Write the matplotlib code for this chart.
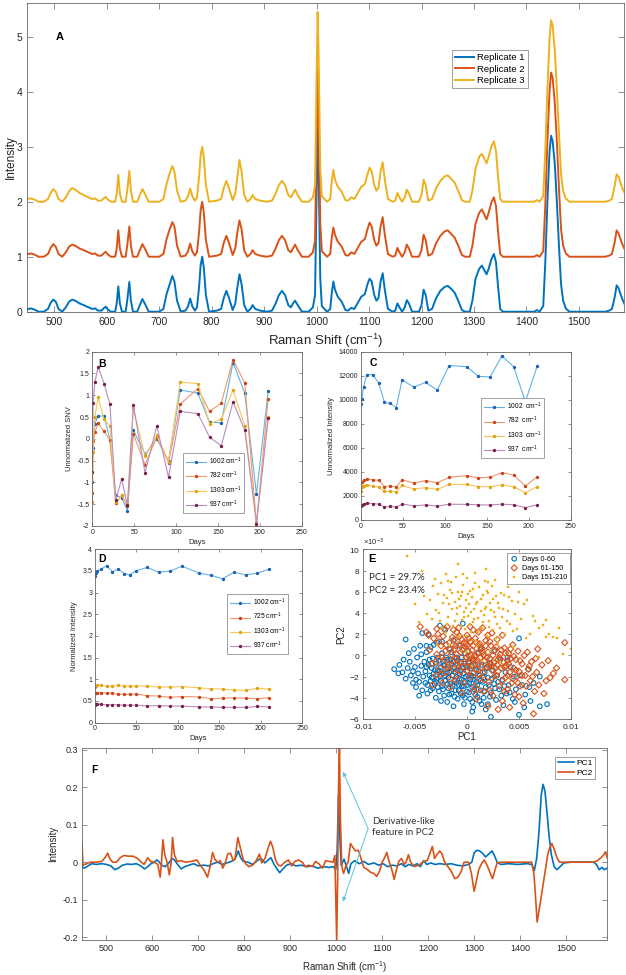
import matplotlib
matplotlib.use("Agg")
import matplotlib.pyplot as plt
from matplotlib.ticker import FuncFormatter, ScalarFormatter
import numpy as np

# ---------------- data ----------------
# panel A: mean spectra of three replicates (intensity, before stacking)
shift_a = [
    447, 455, 462, 470, 480, 488, 493, 498, 503, 508,
    515, 522, 528, 534, 540, 548, 556, 565, 572, 578,
    583, 590, 594, 598, 602, 608, 616, 619, 622, 625,
    629, 636, 639, 643, 646, 650, 658, 663, 668, 673,
    680, 700, 708, 714, 720, 725, 729, 734, 741, 750,
    755, 759, 763, 768, 772, 776, 779, 782, 785, 789,
    795, 810, 818, 823, 828, 833, 840, 845, 849, 853,
    857, 862, 868, 874, 878, 883, 892, 905, 915, 922,
    928, 934, 940, 946, 951, 955, 959, 964, 972, 985,
    993, 997, 1000, 1002, 1004, 1007, 1010, 1020, 1026, 1029,
    1032, 1035, 1040, 1048, 1055, 1060, 1066, 1072, 1078, 1085,
    1092, 1097, 1101, 1105, 1110, 1114, 1118, 1122, 1126, 1130,
    1136, 1145, 1150, 1154, 1158, 1163, 1168, 1172, 1176, 1182,
    1195, 1200, 1204, 1208, 1213, 1220, 1228, 1236, 1244, 1250,
    1256, 1263, 1270, 1277, 1283, 1292, 1297, 1303, 1310, 1315,
    1320, 1324, 1328, 1333, 1338, 1342, 1346, 1350, 1355, 1370,
    1415, 1420, 1425, 1432, 1436, 1440, 1444, 1447, 1450, 1454,
    1458, 1462, 1466, 1470, 1475, 1482, 1550, 1558, 1563, 1568,
    1572, 1576, 1580, 1584, 1588]
rep1 = [
    0.04, 0.06, 0.04, 0.00, 0.00, 0.05, 0.16, 0.22, 0.18, 0.05,
    0.00, 0.08, 0.18, 0.22, 0.20, 0.15, 0.12, 0.08, 0.05, 0.06,
    0.02, 0.02, 0.06, 0.09, 0.04, 0.00, 0.00, 0.15, 0.46, 0.15,
    0.00, 0.00, 0.20, 0.54, 0.20, 0.00, 0.00, 0.12, 0.23, 0.14,
    0.00, 0.00, 0.05, 0.32, 0.50, 0.65, 0.55, 0.20, 0.00, 0.02,
    0.10, 0.24, 0.10, 0.02, 0.08, 0.45, 0.85, 1.00, 0.80, 0.30,
    0.00, 0.02, 0.05, 0.25, 0.38, 0.25, 0.03, 0.15, 0.45, 0.68,
    0.50, 0.12, 0.00, 0.05, 0.12, 0.05, 0.02, 0.00, 0.02, 0.15,
    0.30, 0.38, 0.30, 0.12, 0.08, 0.15, 0.20, 0.12, 0.00, 0.00,
    0.08, 0.30, 2.20, 3.35, 2.50, 0.60, 0.10, 0.00, 0.05, 0.35,
    0.55, 0.40, 0.28, 0.18, 0.03, 0.02, 0.07, 0.05, 0.15, 0.27,
    0.32, 0.50, 0.60, 0.55, 0.30, 0.20, 0.25, 0.55, 0.70, 0.40,
    0.05, 0.00, 0.02, 0.15, 0.08, 0.00, 0.08, 0.21, 0.15, 0.00,
    0.00, 0.12, 0.40, 0.30, 0.02, 0.05, 0.25, 0.38, 0.45, 0.47,
    0.42, 0.35, 0.20, 0.03, 0.00, 0.00, 0.20, 0.60, 0.78, 0.84,
    0.75, 0.68, 0.78, 0.95, 1.05, 0.90, 0.45, 0.05, 0.00, 0.00,
    0.00, 0.03, 0.00, 0.10, 0.90, 2.00, 2.90, 3.20, 3.10, 2.70,
    2.00, 1.20, 0.50, 0.20, 0.06, 0.00, 0.00, 0.02, 0.05, 0.25,
    0.48, 0.42, 0.30, 0.20, 0.12]
rep2 = [
    0.04, 0.06, 0.04, 0.00, 0.00, 0.05, 0.16, 0.23, 0.18, 0.05,
    0.00, 0.08, 0.18, 0.22, 0.20, 0.15, 0.12, 0.08, 0.05, 0.06,
    0.02, 0.02, 0.06, 0.09, 0.04, 0.00, 0.00, 0.15, 0.48, 0.15,
    0.00, 0.00, 0.20, 0.55, 0.20, 0.00, 0.00, 0.12, 0.23, 0.14,
    0.00, 0.00, 0.05, 0.32, 0.50, 0.63, 0.55, 0.20, 0.00, 0.02,
    0.10, 0.24, 0.10, 0.02, 0.08, 0.45, 0.85, 1.00, 0.80, 0.30,
    0.00, 0.02, 0.05, 0.25, 0.38, 0.25, 0.03, 0.15, 0.45, 0.66,
    0.50, 0.12, 0.00, 0.05, 0.12, 0.05, 0.02, 0.00, 0.02, 0.15,
    0.30, 0.38, 0.30, 0.12, 0.08, 0.15, 0.22, 0.12, 0.00, 0.00,
    0.08, 0.30, 2.25, 3.42, 2.55, 0.60, 0.10, 0.00, 0.05, 0.35,
    0.53, 0.40, 0.28, 0.18, 0.03, 0.02, 0.08, 0.05, 0.15, 0.27,
    0.32, 0.50, 0.62, 0.55, 0.30, 0.20, 0.25, 0.55, 0.72, 0.40,
    0.05, 0.00, 0.02, 0.16, 0.08, 0.00, 0.08, 0.22, 0.15, 0.00,
    0.00, 0.12, 0.40, 0.30, 0.02, 0.05, 0.25, 0.38, 0.46, 0.48,
    0.42, 0.35, 0.20, 0.03, 0.00, 0.00, 0.20, 0.60, 0.80, 0.86,
    0.76, 0.68, 0.80, 0.98, 1.08, 0.92, 0.45, 0.05, 0.00, 0.00,
    0.00, 0.03, 0.00, 0.10, 0.95, 2.10, 3.00, 3.35, 3.25, 2.80,
    2.10, 1.25, 0.50, 0.20, 0.06, 0.00, 0.00, 0.02, 0.05, 0.25,
    0.48, 0.42, 0.30, 0.20, 0.12]
rep3 = [
    0.05, 0.06, 0.04, 0.00, 0.00, 0.05, 0.16, 0.23, 0.18, 0.05,
    0.00, 0.08, 0.19, 0.25, 0.22, 0.16, 0.12, 0.08, 0.05, 0.06,
    0.02, 0.02, 0.06, 0.09, 0.04, 0.00, 0.00, 0.15, 0.49, 0.15,
    0.00, 0.00, 0.20, 0.56, 0.20, 0.00, 0.00, 0.12, 0.23, 0.14,
    0.00, 0.00, 0.05, 0.32, 0.52, 0.65, 0.55, 0.20, 0.00, 0.02,
    0.10, 0.24, 0.10, 0.02, 0.08, 0.45, 0.85, 1.00, 0.80, 0.30,
    0.00, 0.02, 0.05, 0.25, 0.38, 0.25, 0.03, 0.15, 0.45, 0.76,
    0.55, 0.12, 0.00, 0.05, 0.12, 0.05, 0.02, 0.00, 0.02, 0.15,
    0.30, 0.38, 0.30, 0.12, 0.08, 0.15, 0.22, 0.12, 0.00, 0.00,
    0.08, 0.30, 2.30, 3.45, 2.60, 0.60, 0.10, 0.00, 0.05, 0.38,
    0.58, 0.40, 0.28, 0.18, 0.03, 0.02, 0.08, 0.05, 0.15, 0.27,
    0.32, 0.50, 0.62, 0.55, 0.30, 0.20, 0.25, 0.55, 0.72, 0.40,
    0.05, 0.00, 0.02, 0.16, 0.08, 0.00, 0.08, 0.22, 0.15, 0.00,
    0.00, 0.12, 0.40, 0.30, 0.02, 0.05, 0.25, 0.38, 0.46, 0.48,
    0.42, 0.35, 0.20, 0.03, 0.00, 0.00, 0.20, 0.60, 0.82, 0.87,
    0.78, 0.70, 0.82, 1.00, 1.10, 0.92, 0.45, 0.05, 0.00, 0.00,
    0.00, 0.03, 0.00, 0.10, 0.92, 2.05, 2.95, 3.30, 3.20, 2.75,
    2.05, 1.25, 0.50, 0.20, 0.06, 0.00, 0.00, 0.02, 0.05, 0.28,
    0.50, 0.45, 0.32, 0.22, 0.15]
rep_names = ['Replicate 1', 'Replicate 2', 'Replicate 3']

# panels B-D: band intensities vs storage day
days = [0, 1, 3, 7, 14, 21, 28, 35, 42, 49, 63, 77, 91, 105, 126, 140, 154, 168, 182, 196, 210]
snv_1002 = [-1.0, -0.2, 0.35, 0.52, 0.53, -0.02, -1.3, -1.35, -1.65, 0.2, -0.35, 0.0, -0.5, 1.12, 1.05, 0.38, 0.37, 1.75, 1.05, -1.27, 1.1]
snv_782 = [-1.25, -0.05, 0.15, 0.36, 0.17, -0.02, -1.48, -1.3, -1.55, 0.12, -0.6, 0.05, -0.55, 0.8, 1.15, 0.63, 0.82, 1.82, 1.28, -1.95, 0.92]
snv_1303 = [-1.45, -0.3, 0.5, 0.95, 0.45, 0.3, -1.45, -1.3, -1.5, 0.7, -0.4, 0.08, -0.52, 1.3, 1.27, 0.35, 0.45, 1.12, 0.3, -1.9, 0.5]
snv_937 = [-0.75, 0.82, 1.3, 1.65, 1.27, 0.8, -1.4, -0.92, -1.52, 0.77, -0.78, 0.3, -0.88, 0.63, 0.58, 0.04, -0.16, 0.85, 0.2, -1.95, 0.48]

raw_1002 = [9650, 10050, 11100, 12100, 12100, 11400, 9800, 9700, 9350, 11650, 11050, 11450, 10800, 12850, 12750, 11950, 11900, 13650, 12750, 9850, 12800]
raw_782 = [2850, 3150, 3300, 3400, 3350, 3300, 2780, 2830, 2750, 3330, 3080, 3270, 3100, 3550, 3690, 3500, 3560, 3940, 3740, 2830, 3600]
raw_1303 = [2400, 2780, 2850, 2910, 2800, 2760, 2380, 2400, 2330, 2880, 2580, 2690, 2550, 2970, 2960, 2770, 2780, 2910, 2760, 2280, 2770]
raw_937 = [1150, 1250, 1350, 1410, 1370, 1320, 1080, 1130, 1060, 1330, 1170, 1260, 1150, 1310, 1300, 1260, 1250, 1320, 1260, 1030, 1270]

norm_1002 = [3.38, 3.45, 3.50, 3.54, 3.62, 3.48, 3.55, 3.44, 3.41, 3.50, 3.58, 3.47, 3.50, 3.61, 3.45, 3.40, 3.32, 3.47, 3.41, 3.45, 3.54]
norm_725 = [0.67, 0.68, 0.69, 0.69, 0.68, 0.68, 0.65, 0.65, 0.65, 0.66, 0.62, 0.61, 0.58, 0.60, 0.59, 0.55, 0.56, 0.57, 0.56, 0.55, 0.57]
norm_1303 = [0.82, 0.85, 0.87, 0.86, 0.84, 0.84, 0.86, 0.84, 0.84, 0.85, 0.84, 0.82, 0.82, 0.83, 0.80, 0.78, 0.77, 0.75, 0.74, 0.79, 0.77]
norm_937 = [0.41, 0.42, 0.42, 0.42, 0.41, 0.41, 0.41, 0.40, 0.40, 0.40, 0.38, 0.39, 0.38, 0.38, 0.36, 0.36, 0.35, 0.35, 0.35, 0.37, 0.36]

# panel E: PCA scores, (PC1, PC2) in units of 1e-3
scores_0_60 = [
    (-7.0, -1.3), (-6.6, -1.7), (-6.5, -0.9), (-6.2, -1.6), (-5.9, 1.5), (-5.9, -2.2), (-5.7, -1.2),
    (-5.5, -0.6), (-5.4, -1.9), (-5.2, -2.6), (-5.1, 0.6), (-5.0, -1.1), (-4.9, -3.0), (-4.8, -0.2),
    (-4.7, -1.7), (-4.6, -2.5), (-4.5, 0.9), (-4.4, -1.0), (-4.3, 2.1), (-4.3, -3.3), (-4.2, -2.0),
    (-4.1, -0.6), (-4.0, -1.5), (-3.9, 0.3), (-3.8, -2.8), (-3.8, -3.6), (-3.7, 2.0), (-3.7, -0.9),
    (-3.6, -1.9), (-3.5, -2.4), (-3.5, 0.8), (-3.4, -1.2), (-3.3, -3.1), (-3.3, -0.3), (-3.2, -1.7),
    (-3.1, -2.7), (-3.0, -4.0), (-3.0, -0.8), (-2.9, -2.2), (-2.9, 1.2), (-2.8, -1.4), (-2.7, -3.4),
    (-2.7, -0.5), (-2.6, 2.8), (-2.6, -2.0), (-2.5, -1.1), (-2.4, -2.9), (-2.4, 0.2), (-2.3, -1.7),
    (-2.2, -3.8), (-2.2, -0.9), (-2.1, 2.4), (-2.1, -2.4), (-2.0, -1.3), (-1.9, -4.4), (-1.9, -0.4),
    (-1.8, -2.1), (-1.8, -3.1), (-1.7, 0.6), (-1.7, -1.6), (-1.6, -2.7), (-1.5, -0.8), (-1.5, -3.6),
    (-1.4, -1.9), (-1.3, -4.8), (-1.3, 1.4), (-1.2, -2.4), (-1.2, -1.1), (-1.1, -3.3), (-1.0, -0.2),
    (-1.0, -2.0), (-0.9, -4.1), (-0.9, -1.4), (-0.8, -2.8), (-0.7, 0.9), (-0.7, -1.8), (-0.6, -3.6),
    (-0.6, -0.6), (-0.5, -2.3), (-0.4, 3.0), (-0.4, -1.2), (-0.3, -4.6), (-0.3, -2.9), (-0.2, -0.8),
    (-0.1, -2.0), (0.0, -3.4), (0.0, -1.5), (0.1, 0.4), (0.2, -2.6), (0.3, -4.1), (0.3, -1.0),
    (0.4, -1.9), (0.5, -3.0), (0.6, -4.9), (0.6, -0.5), (0.7, -2.3), (0.8, -3.7), (0.9, -1.4),
    (1.0, -2.8), (1.1, 0.2), (1.2, -4.3), (1.2, -1.9), (1.3, -3.3), (1.4, -0.9), (1.5, -2.5),
    (1.6, -4.0), (1.7, -1.6), (1.8, -3.0), (2.0, -2.1), (2.0, -4.6), (2.2, -0.7), (2.3, -5.8),
    (2.3, -3.5), (2.5, -1.4), (2.6, -2.7), (2.8, -4.2), (2.9, -1.9), (3.1, -3.2), (3.2, -0.4),
    (3.4, -2.3), (3.5, -4.7), (3.7, -1.6), (3.8, -3.6), (4.0, -2.8), (4.2, -1.1), (4.4, -4.1),
    (4.5, -2.0), (4.7, -3.2), (5.0, 1.6), (5.0, -5.6), (5.1, -1.9), (5.3, -2.8), (5.6, -3.7),
    (5.9, -1.3), (6.1, -4.3), (6.4, -2.6), (7.0, -2.0), (7.0, -4.8), (7.7, -4.6), (0.5, -5.3),
    (-2.5, -4.3), (1.8, -5.1),
    (-3.9, -1.1), (-3.6, -0.4), (-3.4, -2.1), (-3.1, -1.4), (-3.0, -2.5), (-2.8, -0.2), (-2.8, -3.0),
    (-2.6, -1.5), (-2.5, -2.4), (-2.3, -0.6), (-2.3, -3.2), (-2.1, -1.9), (-2.0, -0.2), (-1.9, -2.7),
    (-1.8, -1.2), (-1.7, -3.7), (-1.6, -0.4), (-1.5, -1.5), (-1.4, -2.9), (-1.3, -0.6), (-1.2, -3.9),
    (-1.1, -1.6), (-1.0, -2.6), (-0.9, -0.5), (-0.8, -1.1), (-0.8, -3.3), (-0.7, -2.2), (-0.6, -1.4),
    (-0.5, -2.9), (-0.5, -0.2), (-0.4, -3.8), (-0.3, -1.7), (-0.2, -2.5), (-0.2, -4.0), (-0.1, -1.0),
    (0.0, -2.8), (0.1, -1.9), (0.2, -3.5), (0.2, -0.6), (0.3, -2.3), (0.4, -1.2), (0.5, -4.4),
    (0.6, -2.0), (0.7, -3.2), (0.8, -0.9), (0.9, -2.5), (1.0, -3.9), (1.1, -1.5), (1.3, -2.4),
    (1.4, -4.6), (1.6, -2.1), (1.7, -3.4), (1.9, -1.2), (2.1, -2.8), (2.2, -3.9), (2.4, -2.2),
    (2.7, -3.1), (3.0, -2.5), (3.3, -3.8), (3.6, -2.9), (4.1, -3.5), (4.6, -4.4), (5.5, -4.9),
    (6.0, -3.0), (-4.6, -3.8), (-5.2, -1.5), (-4.9, -2.3), (-4.0, -2.6), (-3.5, -3.3), (-3.9, 0.9),
    (-3.2, 1.0), (-2.4, 1.3), (-1.5, 0.3), (-0.2, 0.2), (1.3, 0.6), (2.6, 0.4), (3.9, -0.2),
    (-6.1, -0.4), (-5.6, 0.2), (-4.4, 0.1)]
scores_61_150 = [
    (-4.5, 2.7), (-3.9, 2.2), (-3.6, 0.5), (-3.4, -0.8), (-3.2, 1.6), (-3.0, -1.9), (-2.9, 0.1),
    (-2.8, 2.0), (-2.6, -1.2), (-2.5, 0.9), (-2.4, -2.6), (-2.3, 1.8), (-2.2, -0.4), (-2.1, 0.4),
    (-2.0, -1.6), (-1.9, 2.7), (-1.8, -0.9), (-1.7, 1.2), (-1.6, -2.2), (-1.5, 0.1), (-1.4, 1.7),
    (-1.3, -1.3), (-1.2, 0.6), (-1.1, -0.3), (-1.0, 2.2), (-0.9, -1.8), (-0.8, 1.0), (-0.7, -0.7),
    (-0.6, 0.3), (-0.5, 1.5), (-0.4, -1.1), (-0.3, -2.6), (-0.2, 0.8), (-0.1, -0.2), (0.0, 1.9),
    (0.0, -1.5), (0.1, 0.4), (0.2, -0.7), (0.3, 1.3), (0.3, -2.0), (0.4, 0.0), (0.5, -1.0),
    (0.6, 0.9), (0.7, -0.4), (0.7, -2.9), (0.8, 1.6), (0.9, -1.3), (1.0, 0.2), (1.1, -0.8),
    (1.2, 1.1), (1.2, -2.2), (1.3, -0.2), (1.4, 0.6), (1.5, -1.6), (1.6, -3.4), (1.7, -0.5),
    (1.8, 1.4), (1.9, -1.1), (2.0, 0.3), (2.1, -2.5), (2.2, -0.3), (2.3, 0.9), (2.4, -1.4),
    (2.5, -3.8), (2.6, -0.7), (2.7, 0.5), (2.8, -1.9), (2.9, 1.5), (3.0, -0.4), (3.1, -2.9),
    (3.2, 0.1), (3.3, -1.2), (3.4, -4.3), (3.5, -0.6), (3.6, 0.7), (3.7, -2.1), (3.8, -1.0),
    (3.9, -3.2), (4.0, 0.2), (4.1, -1.6), (4.2, -0.3), (4.3, -2.6), (4.4, 1.0), (4.5, -1.2),
    (4.6, -3.7), (4.7, -0.4), (4.8, -2.0), (4.9, 0.4), (5.0, -1.5), (5.1, -2.9), (5.3, -0.8),
    (5.4, -4.5), (5.6, -1.9), (5.8, 0.3), (5.9, -1.3), (6.1, -2.4), (6.2, -0.6), (6.4, -5.5),
    (6.5, -3.4), (6.7, -1.6), (6.9, -2.8), (7.2, -0.9), (7.6, -2.4), (8.0, -2.1), (8.3, -1.7),
    (9.4, 1.2), (9.4, -2.3), (-1.6, -3.0), (-0.5, -3.5), (0.9, -4.1), (2.0, -4.8), (3.0, -5.1),
    (1.5, 2.6), (-0.8, 2.6), (0.6, 2.4), (2.4, 2.1), (3.4, 1.9), (-2.2, 2.5), (-3.3, -2.8),
    (4.1, -4.9), (1.0, -3.2), (-1.1, 0.9), (0.2, -0.1), (1.6, 0.0), (2.9, -0.9), (-0.1, 1.1),
    (3.9, -0.5),
    (-2.7, 1.3), (-2.4, -0.2), (-2.0, 1.0), (-1.9, -1.1), (-1.6, 0.6), (-1.4, -0.5), (-1.2, 1.5),
    (-1.0, 0.1), (-0.9, -0.9), (-0.7, 1.8), (-0.6, -1.5), (-0.4, 0.5), (-0.3, 1.2), (-0.2, -0.6),
    (0.0, 0.9), (0.1, -1.1), (0.2, 1.6), (0.4, -0.4), (0.5, 0.5), (0.6, -1.7), (0.8, 0.0),
    (0.9, 1.2), (1.0, -0.5), (1.1, -1.8), (1.3, 0.8), (1.4, -1.1), (1.5, 0.3), (1.7, -2.3),
    (1.8, 0.9), (1.9, -0.2), (2.1, -1.0), (2.2, 1.3), (2.3, -0.8), (2.5, 0.0), (2.6, -2.0),
    (2.7, -1.2), (2.8, 0.8), (3.0, -1.5), (3.1, -0.2), (3.3, 0.5), (3.4, -2.4), (3.6, -1.1),
    (3.7, 0.2), (3.9, -1.9), (4.0, -0.8), (4.2, 0.6), (4.4, -2.2), (4.5, -0.1), (4.7, -1.4),
    (4.9, -2.6), (5.1, -0.5), (5.3, -1.9), (5.5, 0.0), (5.7, -2.9), (6.0, -1.0), (6.3, -2.0),
    (6.6, -0.3), (-3.7, 1.9), (-2.9, 2.5), (-1.3, 2.4), (0.3, 2.7), (1.1, 2.2), (2.0, 1.9),
    (-3.0, -0.6), (-2.5, -1.8), (-1.1, -2.4), (0.6, -3.4), (2.2, -3.3), (3.6, -3.4), (5.0, -3.9),
    (7.4, -3.6), (8.6, -1.2), (7.8, -0.5), (6.8, 0.6)]
scores_151_210 = [
    (-5.8, 9.4), (-5.0, 4.8), (-4.3, 8.0), (-4.1, 5.6), (-3.8, 3.9), (-3.6, 5.2), (-3.3, 6.5),
    (-3.1, 7.2), (-3.0, 4.3), (-2.8, 5.8), (-2.6, 3.2), (-2.5, 6.8), (-2.3, 4.9), (-2.1, 2.1),
    (-2.0, 7.7), (-1.9, 5.4), (-1.8, 3.6), (-1.6, 6.2), (-1.5, 6.9), (-1.4, 4.4), (-1.3, 2.8),
    (-1.2, 5.0), (-1.1, 7.4), (-1.0, 3.9), (-0.9, 6.0), (-0.8, 1.8), (-0.7, 4.7), (-0.6, 5.6),
    (-0.5, 3.3), (-0.4, 6.6), (-0.3, 4.1), (-0.2, 2.5), (-0.1, 5.2), (0.0, 7.3), (0.1, 3.7),
    (0.2, 4.8), (0.3, 6.1), (0.4, 2.2), (0.5, 5.5), (0.6, 3.1), (0.7, 4.4), (0.8, 7.8),
    (0.8, 6.8), (0.9, 1.4), (1.0, 5.0), (1.1, 3.5), (1.2, 6.4), (1.3, 4.2), (1.4, 2.6),
    (1.5, 5.7), (1.6, 3.8), (1.7, 7.0), (1.8, 4.6), (1.9, 1.8), (2.0, 5.9), (2.1, 3.2),
    (2.2, 4.9), (2.4, 6.5), (2.5, 2.4), (2.6, 4.1), (2.8, 5.6), (2.9, 3.0), (3.0, 1.2),
    (3.1, 4.5), (3.3, 5.9), (3.4, 3.6), (3.6, 5.7), (3.7, 2.0), (3.9, 4.2), (4.1, 3.0),
    (4.3, 5.1), (4.6, 3.9), (4.8, 2.5), (4.9, 5.0), (5.2, 3.4), (5.5, 4.8), (5.7, 1.6),
    (5.8, 5.2), (6.1, 2.0), (6.3, 3.7), (6.5, 3.2), (6.9, 2.6), (7.3, 2.9), (7.6, 1.7),
    (7.6, 3.3), (7.9, 2.0), (8.3, 1.7), (8.7, 1.6), (8.8, 2.6), (9.2, 0.1), (10.0, 0.6),
    (-4.6, 3.1), (-0.1, 0.3), (1.4, -0.5), (2.2, 0.4), (-1.7, 1.0), (4.4, 0.8), (3.2, -0.6),
    (0.5, -1.0), (6.9, -0.2), (-0.9, 8.6), (1.8, 8.1), (-2.9, 1.0), (5.0, 6.0), (2.7, 7.1),
    (-2.7, 4.0), (-2.2, 5.7), (-1.9, 3.0), (-1.7, 4.8), (-1.4, 5.9), (-1.2, 3.2), (-1.0, 4.5),
    (-0.8, 5.3), (-0.6, 2.8), (-0.5, 6.0), (-0.3, 3.6), (-0.1, 4.5), (0.1, 5.8), (0.2, 2.9),
    (0.4, 4.1), (0.6, 6.3), (0.7, 3.4), (0.9, 4.8), (1.1, 2.2), (1.3, 5.3), (1.5, 3.1),
    (1.7, 4.4), (1.9, 6.1), (2.1, 2.7), (2.3, 4.3), (2.5, 5.3), (2.7, 3.6), (3.0, 4.9),
    (3.2, 2.6), (3.5, 4.4), (3.8, 3.2), (4.0, 5.5), (4.4, 2.3), (-2.4, 2.6), (-3.4, 3.4),
    (0.0, 1.8), (1.0, 0.9), (2.8, 1.6), (-0.4, 7.7), (2.0, 6.9), (-1.8, 7.0), (3.9, 6.4)]
group_names = ['Days 0-60', 'Days 61-150', 'Days 151-210']

# panel F: PCA loadings (Raman shift, loading)
pc1_loading = [
    (447, -0.012), (452, -0.016), (460, -0.01), (468, -0.004), (478, -0.006), (490, -0.004),
    (500, -0.006), (510, -0.01), (518, -0.02), (526, -0.016), (535, -0.008), (545, -0.005),
    (555, -0.006), (565, -0.004), (575, -0.01), (583, -0.018), (590, -0.012), (597, -0.004),
    (604, 0.0), (610, 0.006), (614, 0.002), (620, -0.008), (628, -0.012), (636, -0.002),
    (643, 0.01), (648, 0.006), (655, -0.006), (663, -0.018), (670, -0.012), (680, -0.008),
    (690, -0.004), (700, -0.01), (712, -0.008), (722, -0.01), (732, -0.004), (742, 0.0),
    (752, -0.006), (762, -0.002), (772, 0.002), (780, 0.008), (787, 0.03), (792, 0.012),
    (798, 0.002), (808, 0.0), (818, -0.006), (828, 0.004), (836, 0.01), (845, -0.002),
    (852, 0.006), (858, 0.012), (864, -0.004), (870, -0.016), (877, -0.028), (884, -0.018),
    (892, -0.008), (902, -0.004), (912, -0.01), (924, -0.008), (935, -0.012), (948, -0.01),
    (960, -0.016), (972, -0.012), (985, -0.014), (994, -0.012), (999, -0.02), (1002, 0.03),
    (1005, 0.18), (1008, 0.06), (1011, -0.008), (1017, 0.008), (1022, -0.01), (1027, -0.03),
    (1032, -0.004), (1040, 0.004), (1050, -0.004), (1060, 0.002), (1070, -0.006), (1082, -0.002),
    (1092, -0.008), (1102, -0.004), (1112, -0.012), (1122, -0.008), (1132, -0.01), (1142, -0.004),
    (1150, -0.012), (1158, -0.006), (1167, -0.01), (1176, -0.004), (1183, -0.012), (1190, 0.004),
    (1197, -0.006), (1206, -0.002), (1215, -0.006), (1225, -0.004), (1238, -0.006), (1250, -0.004),
    (1262, -0.008), (1275, -0.01), (1288, -0.006), (1295, 0.0), (1300, 0.025), (1306, 0.032),
    (1312, 0.03), (1318, 0.024), (1325, 0.014), (1332, 0.022), (1339, 0.03), (1344, 0.018),
    (1350, 0.0), (1358, -0.006), (1375, -0.004), (1395, -0.006), (1415, -0.004), (1425, -0.006),
    (1431, -0.022), (1436, 0.01), (1441, 0.08), (1446, 0.18), (1450, 0.208), (1454, 0.19),
    (1458, 0.14), (1463, 0.07), (1468, 0.02), (1474, -0.012), (1480, -0.02), (1487, -0.012),
    (1495, -0.002), (1510, 0.0), (1540, 0.0), (1560, 0.0), (1566, -0.006), (1572, -0.02),
    (1578, -0.014), (1583, -0.02), (1589, -0.016)]
pc2_loading = [
    (447, 0.05), (449, -0.008), (455, -0.005), (465, 0.0), (478, 0.0), (490, 0.002),
    (497, 0.012), (503, 0.024), (508, 0.008), (514, 0.0), (522, 0.0), (530, 0.012),
    (538, 0.018), (548, 0.016), (558, 0.016), (568, 0.01), (576, 0.0), (582, -0.006),
    (590, 0.012), (596, 0.002), (604, 0.0), (612, -0.006), (617, -0.04), (620, 0.0),
    (623, 0.06), (627, 0.02), (632, 0.0), (637, -0.034), (641, 0.0), (644, 0.066),
    (648, 0.02), (654, 0.002), (662, 0.004), (672, 0.0), (685, 0.002), (697, 0.006),
    (704, -0.008), (712, -0.02), (720, -0.04), (726, -0.01), (731, 0.026), (736, 0.008),
    (742, 0.0), (748, 0.004), (753, -0.016), (758, -0.004), (764, 0.022), (770, 0.024),
    (776, 0.004), (780, 0.01), (786, 0.066), (791, 0.04), (797, 0.01), (803, -0.004),
    (810, -0.012), (818, -0.008), (825, 0.002), (833, 0.022), (838, -0.002), (845, 0.01),
    (851, 0.035), (857, 0.056), (862, 0.04), (868, 0.006), (874, -0.008), (880, -0.01),
    (888, 0.0), (896, 0.006), (903, -0.01), (910, 0.002), (918, 0.006), (926, 0.0),
    (933, -0.012), (940, -0.008), (948, -0.012), (955, 0.002), (962, -0.004), (970, -0.016),
    (977, 0.004), (985, 0.002), (993, 0.0), (997, 0.018), (999, -0.1), (1001, -0.21),
    (1003, -0.05), (1005, 0.2), (1007, 0.31), (1009, 0.12), (1012, -0.01), (1016, -0.03),
    (1021, -0.01), (1026, 0.0), (1031, 0.05), (1036, 0.04), (1042, 0.03), (1048, 0.032),
    (1054, 0.01), (1060, -0.014), (1068, -0.02), (1076, -0.028), (1082, -0.03), (1088, -0.038),
    (1094, -0.024), (1100, 0.0), (1106, 0.014), (1110, 0.026), (1115, 0.002), (1121, -0.02),
    (1126, -0.046), (1131, -0.02), (1136, 0.002), (1142, 0.01), (1148, -0.006), (1152, 0.0),
    (1157, 0.02), (1162, 0.0), (1170, -0.012), (1180, -0.008), (1190, 0.002), (1198, 0.004),
    (1205, 0.028), (1209, 0.042), (1214, 0.01), (1219, 0.02), (1225, 0.03), (1230, 0.022),
    (1236, 0.0), (1243, -0.012), (1250, -0.024), (1258, -0.044), (1265, -0.04), (1272, -0.024),
    (1278, 0.0), (1288, 0.0), (1294, -0.03), (1300, -0.078), (1305, -0.05), (1310, -0.02),
    (1316, -0.004), (1322, 0.006), (1328, -0.008), (1334, -0.026), (1340, -0.044), (1345, -0.022),
    (1350, -0.002), (1358, 0.0), (1400, 0.0), (1425, 0.0), (1430, -0.03), (1434, -0.1),
    (1437, -0.16), (1441, -0.13), (1445, -0.1), (1450, -0.06), (1455, -0.02), (1460, 0.02),
    (1465, 0.04), (1469, 0.05), (1474, 0.035), (1480, 0.012), (1486, 0.0), (1520, 0.0),
    (1560, 0.0), (1568, 0.004), (1576, 0.012), (1582, 0.02), (1586, 0.028), (1589, 0.012)]

# ---------------- style ----------------
plt.rcParams['font.family'] = ['Liberation Sans', 'DejaVu Sans']
plt.rcParams['axes.unicode_minus'] = False
plt.rcParams['mathtext.default'] = 'regular'

BLUE, ORANGE, YELLOW, PURPLE = '#0072BD', '#D95319', '#EDB120', '#7E2F8E'
# lighter lines + darker markers, as in the small panels
SMALL = [('#62B3E4', '#1D62B0'), ('#F0956C', '#C9441A'),
         ('#F6C65A', '#E2A20F'), ('#B98BC1', '#7A1F45')]
FRAME = '#666666'
TXT = '#262626'

W, H = 626, 975
fig = plt.figure(figsize=(W / 100, H / 100), dpi=100)


def px_axes(l, t, r, b):
    return fig.add_axes([l / W, 1 - b / H, (r - l) / W, (b - t) / H])


def box(ax, fs, ln=3, pad=2):
    for s in ax.spines.values():
        s.set_color(FRAME)
        s.set_linewidth(0.6)
    ax.tick_params(direction='in', top=True, right=True, length=ln, width=0.5,
                   color=FRAME, labelsize=fs, labelcolor=TXT, pad=pad)


gfmt = FuncFormatter(lambda v, p: '%g' % (0 if abs(v) < 1e-12 else round(v, 6)))


def legend_box(leg):
    fr = leg.get_frame()
    fr.set_linewidth(0.5)
    fr.set_edgecolor('#7a7a7a')


# ---------------- A ----------------
axA = px_axes(26.5, 2.7, 624, 311.7)
for k, (ys, name, col) in enumerate(zip([rep1, rep2, rep3], rep_names, [BLUE, ORANGE, YELLOW])):
    axA.plot(shift_a, np.array(ys) + k, color=col, lw=1.4, label=name)
axA.set_xlim(447, 1586)
axA.set_ylim(0, 5.62)
axA.set_xticks(range(500, 1501, 100))
axA.set_yticks(range(0, 6))
box(axA, 7.5, ln=4.5, pad=4)
axA.tick_params(axis='y', pad=3)
axA.set_ylabel('Intensity', fontsize=8.5, color=TXT, labelpad=0)
axA.set_xlabel('Raman Shift (cm$^{-1}$)', fontsize=9.5, color=TXT, labelpad=3)
leg = axA.legend(loc='upper left', bbox_to_anchor=(0.712, 0.847), fontsize=6.8, fancybox=False,
                 framealpha=1, borderaxespad=0, handlelength=2.0, borderpad=0.35,
                 labelspacing=0.25, handletextpad=0.3)
legend_box(leg)
axA.text(0.056, 0.889, 'A', transform=axA.transAxes, fontsize=8, fontweight='bold',
         ha='center', va='center', color='black')

# ---------------- B, C, D ----------------
panels = [
    dict(rect=(92.3, 351.7, 301.7, 526), series=[snv_1002, snv_782, snv_1303, snv_937],
         labels=['1002 cm$^{-1}$', '782 cm$^{-1}$', '1303 cm$^{-1}$', '937 cm$^{-1}$'],
         ylim=(-2, 2), yticks=np.arange(-2, 2.01, 0.5), ylabel='Unnormalized SNV',
         leg=(0.433, 0.075), letter='B', lxy=(0.048, 0.928)),
    dict(rect=(361, 351.7, 570.7, 520), series=[raw_1002, raw_782, raw_1303, raw_937],
         labels=['1002  cm$^{-1}$', '782  cm$^{-1}$', '1303  cm$^{-1}$', '937  cm$^{-1}$'],
         ylim=(0, 14000), yticks=range(0, 14001, 2000), ylabel='Unnormalized Intensity',
         leg=(0.572, 0.368), letter='C', lxy=(0.059, 0.931)),
    dict(rect=(95, 549.3, 302, 722.5), series=[norm_1002, norm_725, norm_1303, norm_937],
         labels=['1002 cm$^{-1}$', '725 cm$^{-1}$', '1303 cm$^{-1}$', '937 cm$^{-1}$'],
         ylim=(0, 4), yticks=np.arange(0, 4.01, 0.5), ylabel='Normalized Intensity',
         leg=(0.638, 0.395), letter='D', lxy=(0.035, 0.944)),
]
for p in panels:
    ax = px_axes(*p['rect'])
    for vals, lab, (lc, mc) in zip(p['series'], p['labels'], SMALL):
        ax.plot(days, vals, '-', color=lc, lw=0.8, marker='o', ms=1.4, mfc=mc, mec=mc, label=lab)
    ax.set_xlim(0, 250)
    ax.set_ylim(*p['ylim'])
    ax.set_xticks(range(0, 251, 50))
    ax.set_yticks(p['yticks'])
    ax.yaxis.set_major_formatter(gfmt)
    box(ax, 5, ln=2.5, pad=2)
    ax.set_xlabel('Days', fontsize=5.5, color=TXT, labelpad=2)
    ax.set_ylabel(p['ylabel'], fontsize=5.5, color=TXT, labelpad=3)
    leg = ax.legend(loc='lower left', bbox_to_anchor=p['leg'], fontsize=4.8, fancybox=False,
                    framealpha=1, borderaxespad=0, handlelength=3.0, borderpad=0.45,
                    labelspacing=0.45, handletextpad=0.4)
    legend_box(leg)
    ax.text(*p['lxy'], p['letter'], transform=ax.transAxes, fontsize=7.5, fontweight='bold',
            ha='center', va='center', color='black')

# ---------------- E ----------------
axE = px_axes(363, 549.3, 571, 719)
early = np.array(scores_0_60) * 1e-3
mid = np.array(scores_61_150) * 1e-3
late = np.array(scores_151_210) * 1e-3
axE.scatter(early[:, 0], early[:, 1], s=11, marker='o', facecolors='none', edgecolors=BLUE,
            linewidths=0.8, label=group_names[0])
axE.scatter(mid[:, 0], mid[:, 1], s=10, marker='D', facecolors='none', edgecolors=ORANGE,
            linewidths=0.8, label=group_names[1])
axE.scatter(late[:, 0], late[:, 1], s=4, marker='s', facecolors=YELLOW, edgecolors=YELLOW,
            linewidths=0.3, label=group_names[2])
axE.set_xlim(-0.01, 0.01)
axE.set_ylim(-0.006, 0.010)
axE.set_xticks([-0.01, -0.005, 0, 0.005, 0.01])
axE.set_yticks(np.arange(-6, 11, 2) * 1e-3)
axE.xaxis.set_major_formatter(gfmt)
sf = ScalarFormatter(useMathText=True)
sf.set_powerlimits((-3, -3))
axE.yaxis.set_major_formatter(sf)
box(axE, 6, ln=2.5, pad=2)
axE.tick_params(axis='x', pad=3.5)
axE.yaxis.get_offset_text().set_fontsize(5.5)
axE.yaxis.get_offset_text().set_color(TXT)
axE.set_xlabel('PC1', fontsize=7, color=TXT, labelpad=1)
axE.set_ylabel('PC2', fontsize=7, color=TXT, labelpad=2)
leg = axE.legend(loc='upper right', bbox_to_anchor=(0.995, 0.978), fontsize=5.2, fancybox=False,
                 framealpha=1, borderaxespad=0, handlelength=1.2, borderpad=0.35,
                 labelspacing=0.3, handletextpad=0.5, scatterpoints=1)
legend_box(leg)
axE.text(0.045, 0.943, 'E', transform=axE.transAxes, fontsize=8, fontweight='bold',
         ha='center', va='center', color='black')
axE.text(0.03, 0.835, 'PC1 = 29.7%', transform=axE.transAxes, fontsize=7, family='Lato',
         ha='left', va='center', color=TXT)
axE.text(0.03, 0.76, 'PC2 = 23.4%', transform=axE.transAxes, fontsize=7, family='Lato',
         ha='left', va='center', color=TXT)

# ---------------- F ----------------
axF = px_axes(82, 747.7, 607, 940)
l1 = np.array(pc1_loading)
l2 = np.array(pc2_loading)
axF.plot(l1[:, 0], l1[:, 1], color=BLUE, lw=1.2, label='PC1')
axF.plot(l2[:, 0], l2[:, 1], color=ORANGE, lw=1.2, label='PC2')
axF.set_xlim(447, 1589)
axF.set_ylim(-0.208, 0.306)
axF.set_xticks(range(500, 1501, 100))
axF.set_yticks([-0.2, -0.1, 0, 0.1, 0.2, 0.3])
axF.yaxis.set_major_formatter(gfmt)
box(axF, 6.5, ln=3.5, pad=3)
axF.set_xlabel('Raman Shift (cm$^{-1}$)', fontsize=7, color=TXT, labelpad=4)
axF.set_ylabel('Intensity', fontsize=7, color=TXT, labelpad=3)
leg = axF.legend(loc='upper right', bbox_to_anchor=(0.977, 0.952), fontsize=6, fancybox=False,
                 framealpha=1, borderaxespad=0, handlelength=2.0, borderpad=0.3,
                 labelspacing=0.2, handletextpad=0.2)
legend_box(leg)
axF.text(0.024, 0.884, 'F', transform=axF.transAxes, fontsize=7.5, fontweight='bold',
         ha='center', va='center', color='black')
arrow = dict(arrowstyle='-|>', color='#5CC3DB', lw=0.7, mutation_scale=6, shrinkA=0, shrinkB=0)
axF.annotate('', xy=(0.497, 0.875), xytext=(0.545, 0.58), xycoords='axes fraction',
             textcoords='axes fraction', arrowprops=arrow)
axF.annotate('', xy=(0.497, 0.199), xytext=(0.545, 0.58), xycoords='axes fraction',
             textcoords='axes fraction', arrowprops=arrow)
axF.text(0.552, 0.588, 'Derivative-like\nfeature in PC2', transform=axF.transAxes, fontsize=7,
         family='Lato', ha='left', va='center', color='#333333', linespacing=1.35)

fig.savefig('out.png', dpi=100)
